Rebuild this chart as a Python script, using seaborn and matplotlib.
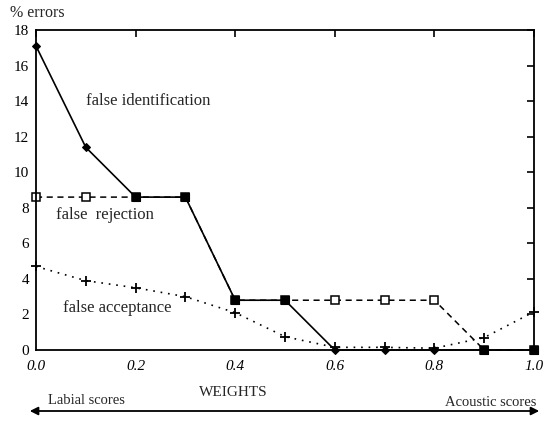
import numpy as np
import pandas as pd
import matplotlib
matplotlib.use("Agg")
import matplotlib.pyplot as plt
import seaborn as sns

weights = [0.0, 0.1, 0.2, 0.3, 0.4, 0.5, 0.6, 0.7, 0.8, 0.9, 1.0]
false_identification = [17.1, 11.4, 8.6, 8.6, 2.8, 2.8, 0.0, 0.0, 0.0, 0.0, 0.0]
false_rejection = [8.6, 8.6, 8.6, 8.6, 2.8, 2.8, 2.8, 2.8, 2.8, 0.0, 0.0]
false_acceptance = [4.7, 3.9, 3.5, 3.0, 2.1, 0.75, 0.15, 0.15, 0.1, 0.7, 2.15]
x_ticks = [0.0, 0.2, 0.4, 0.6, 0.8, 1.0]
y_ticks = [0, 2, 4, 6, 8, 10, 12, 14, 16, 18]

sns.set_theme(style="white")
plt.rcParams['font.family'] = ['Liberation Serif', 'DejaVu Serif']

df = pd.DataFrame({
    "w": weights * 3,
    "err": false_identification + false_rejection + false_acceptance,
    "kind": (["false identification"] * len(weights)
             + ["false rejection"] * len(weights)
             + ["false acceptance"] * len(weights)),
})
# points where identification and rejection coincide (drawn as filled squares)
shared = pd.DataFrame({"w": weights, "fi": false_identification, "fr": false_rejection})
shared = shared[shared.fi == shared.fr]

fig = plt.figure(figsize=(5.43, 4.26), dpi=100)
ax = fig.add_axes([36/543, 1-350/426, (534-36)/543, 320/426])

d = df[df.kind == "false acceptance"]
sns.lineplot(data=d, x="w", y="err", ax=ax, color="black", lw=1.2,
             linestyle=(0, (1, 3.5)), marker="+", markersize=6.5,
             markeredgewidth=1.3, markeredgecolor="black",
             estimator=None, legend=False)
d = df[df.kind == "false rejection"]
sns.lineplot(data=d, x="w", y="err", ax=ax, color="black", lw=1.1,
             linestyle=(0, (4, 3)), marker="s", markersize=5.5,
             markerfacecolor="white", markeredgecolor="black",
             markeredgewidth=1.1, estimator=None, legend=False)
d = df[df.kind == "false identification"]
sns.lineplot(data=d, x="w", y="err", ax=ax, color="black", lw=1.2,
             marker="D", markersize=4.5, markerfacecolor="black",
             markeredgecolor="black", estimator=None, legend=False)
for ln in ax.lines:
    ln.set_clip_on(False)
sc = sns.scatterplot(data=shared, x="w", y="fi", ax=ax, marker="s", s=34,
                     color="black", edgecolor="black", linewidth=0.8,
                     legend=False, zorder=5)
for c in ax.collections:
    c.set_clip_on(False)

ax.set_xlim(0, 1.0)
ax.set_ylim(0, 18)
ax.set_xticks(x_ticks)
ax.set_xticklabels([f"{v:.1f}" for v in x_ticks], fontstyle="italic", fontsize=11)
ax.set_yticks(y_ticks)
ax.set_yticklabels([str(v) for v in y_ticks], fontsize=11)
ax.tick_params(direction="in", length=5, width=1.2, top=True, right=True,
               labeltop=False, labelright=False, colors="black", pad=3)
ax.tick_params(axis="x", pad=7)
ax.tick_params(axis="y", pad=5)
ax.set_xlabel("")
ax.set_ylabel("")
for s in ax.spines.values():
    s.set_color("black")
    s.set_linewidth(1.3)

ax.text(0.10, 14.0, "false identification", fontsize=12, va="center", ha="left")
ax.text(0.04, 7.6, "false  rejection", fontsize=12, va="center", ha="left")
ax.text(0.055, 2.35, "false acceptance", fontsize=12, va="center", ha="left")

fig.text(10/543, 1-13/426, "% errors", fontsize=11.5, ha="left", va="center")
fig.text(233/543, 1-393/426, "WEIGHTS", fontsize=11, ha="center", va="center")
fig.text(48/543, 1-400/426, "Labial scores", fontsize=10.5, ha="left", va="center")
fig.text(536/543, 1-402/426, "Acoustic scores", fontsize=10.5, ha="right", va="center")
fig.add_artist(matplotlib.patches.FancyArrowPatch(
    (27/543, 1-411/426), (542/543, 1-411/426), transform=fig.transFigure,
    arrowstyle="<|-|>", mutation_scale=12, color="black", lw=1.3))

fig.savefig("out.png", dpi=100)
